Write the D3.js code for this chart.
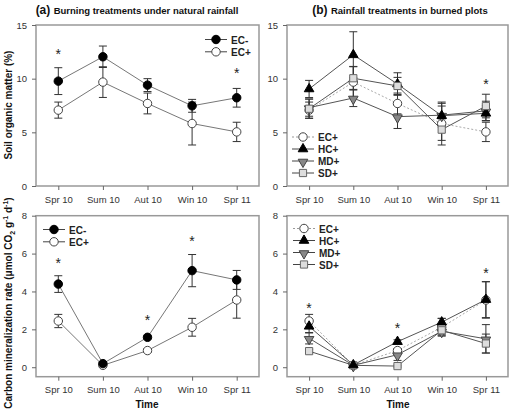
<!DOCTYPE html>
<html>
<head>
<meta charset="utf-8">
<script src="https://cdn.jsdelivr.net/npm/d3@7"></script>
<style>
  body { margin: 0; background: #fff; }
  svg { font-family: "Liberation Sans", Arial, sans-serif; }
</style>
</head>
<body>
<div id="chart"></div>
<script>
// categories / ticks
var seasons = ["Spr 10", "Sum 10", "Aut 10", "Win 10", "Spr 11"];
var somTicks = [0, 5, 10, 15];
var cmrTicks = [0, 2, 4, 6, 8];

// soil organic matter (%)
var somECminus = [9.77, 12.04, 9.4, 7.47, 8.22];
var somECminusErr = [1.25, 1.0, 0.6, 0.6, 0.87];
var somECplus = [7.07, 9.68, 7.69, 5.82, 5.04];
var somECplusErr = [0.75, 1.43, 0.97, 2.0, 0.9];
var somHC = [9.04, 12.22, 9.5, 6.55, 6.77];
var somHCErr = [0.8, 2.15, 1.05, 0.9, 0.7];
var somMD = [7.3, 8.2, 6.46, 6.6, 7.0];
var somMDErr = [0.8, 0.8, 1.1, 1.1, 0.9];
var somSD = [7.2, 10.04, 9.32, 5.25, 7.45];
var somSDErr = [0.9, 1.1, 0.8, 1.0, 1.1];

// carbon mineralization rate
var cmrECminus = [4.39, 0.19, 1.58, 5.1, 4.61];
var cmrECminusErr = [0.44, 0.05, 0.08, 0.85, 0.5];
var cmrECplus = [2.44, 0.1, 0.88, 2.11, 3.55];
var cmrECplusErr = [0.35, 0.05, 0.1, 0.47, 0.96];
var cmrHC = [2.16, 0.12, 1.35, 2.38, 3.57];
var cmrHCErr = [0.35, 0.05, 0.1, 0.2, 0.95];
var cmrMD = [1.53, 0.1, 0.66, 1.9, 1.5];
var cmrMDErr = [0.3, 0.05, 0.3, 0.2, 0.75];
var cmrSD = [0.85, 0.1, 0.06, 1.95, 1.25];
var cmrSDErr = [0.1, 0.05, 0.05, 0.25, 0.5];

// significance stars: [season index, y value]
var starsA = [[0, 12.4], [4, 10.6]];
var starsB = [[4, 9.6]];
var starsC = [[0, 5.55], [2, 2.55], [3, 6.7]];
var starsD = [[0, 3.2], [2, 2.1], [4, 5.05]];

var svg = d3.select("#chart").append("svg")
    .attr("width", 526).attr("height", 410);

var styles = {
    ECm: { shape: d3.symbolCircle, fill: "#000", stroke: "#000", line: "#777", dash: null },
    ECp: { shape: d3.symbolCircle, fill: "#fff", stroke: "#444", line: "#777", dash: null },
    ECpDot: { shape: d3.symbolCircle, fill: "#fff", stroke: "#444", line: "#aaa", dash: "2,2" },
    HC: { shape: d3.symbolTriangle, fill: "#000", stroke: "#000", line: "#555", dash: null },
    MD: { shape: "down", fill: "#888", stroke: "#444", line: "#555", dash: null },
    SD: { shape: d3.symbolSquare, fill: "#ddd", stroke: "#666", line: "#555", dash: null }
};

function marker(g, st, x, y) {
    var p;
    if (st.shape === "down") {
        p = g.append("path").attr("d", d3.symbol(d3.symbolTriangle, 40)())
            .attr("transform", "translate(" + x + "," + (y + 1) + ") rotate(180)");
    } else {
        var size = st.shape === d3.symbolSquare ? 52 : (st.shape === d3.symbolTriangle ? 40 : 56);
        p = g.append("path").attr("d", d3.symbol(st.shape, size)())
            .attr("transform", "translate(" + x + "," + y + ")");
    }
    p.attr("fill", st.fill).attr("stroke", st.stroke).attr("stroke-width", 1);
}

function panel(opt) {
    var x = d3.scalePoint().domain(seasons).range([opt.x0, opt.x1]).padding(0.5);
    var y = d3.scaleLinear().domain(opt.ydom).range([opt.y1, opt.y0]);
    var g = svg.append("g");

    // frame
    g.append("rect").attr("x", opt.x0).attr("y", opt.y0)
        .attr("width", opt.x1 - opt.x0).attr("height", opt.y1 - opt.y0)
        .attr("fill", "none").attr("stroke", "#999").attr("stroke-width", 1.5);

    var ya = g.append("g").attr("transform", "translate(" + opt.x0 + ",0)")
        .call(d3.axisLeft(y).tickValues(opt.ticks).tickSize(4).tickPadding(5));
    var xa = g.append("g").attr("transform", "translate(0," + opt.y1 + ")")
        .call(d3.axisBottom(x).tickSize(4).tickPadding(6));
    [ya, xa].forEach(function (a) {
        a.select(".domain").remove();
        a.selectAll("line").attr("stroke", "#666");
        a.selectAll("text").attr("font-size", 9.5).attr("fill", "#333")
            .attr("font-family", "Liberation Sans, Arial, sans-serif");
    });

    // series: lines first, then error bars, then markers
    opt.series.forEach(function (s) {
        var st = styles[s.style];
        var line = d3.line().x(function (d, i) { return x(seasons[i]); }).y(function (d) { return y(d); });
        g.append("path").datum(s.values).attr("d", line)
            .attr("fill", "none").attr("stroke", st.line).attr("stroke-width", 1)
            .attr("stroke-dasharray", st.dash);
    });
    opt.series.forEach(function (s) {
        s.values.forEach(function (v, i) {
            var cx = x(seasons[i]), e = s.err[i];
            g.append("line").attr("x1", cx).attr("x2", cx)
                .attr("y1", y(v + e)).attr("y2", y(v - e))
                .attr("stroke", "#333").attr("stroke-width", 1);
            [v + e, v - e].forEach(function (w) {
                g.append("line").attr("x1", cx - 4).attr("x2", cx + 4)
                    .attr("y1", y(w)).attr("y2", y(w))
                    .attr("stroke", "#333").attr("stroke-width", 1);
            });
        });
    });
    opt.series.forEach(function (s) {
        s.values.forEach(function (v, i) {
            marker(g, styles[s.style], x(seasons[i]), y(v));
        });
    });

    opt.stars.forEach(function (d) {
        g.append("text").attr("x", x(seasons[d[0]])).attr("y", y(d[1]) + 6)
            .attr("text-anchor", "middle").attr("font-size", 14).attr("fill", "#222")
            .text("*");
    });

    // legend
    opt.legend.items.forEach(function (it, i) {
        var st = styles[it.style];
        var ly = opt.legend.y + i * opt.legend.dy;
        g.append("line").attr("x1", opt.legend.x).attr("x2", opt.legend.x + 22)
            .attr("y1", ly).attr("y2", ly)
            .attr("stroke", st.dash ? "#999" : "#444").attr("stroke-width", 1)
            .attr("stroke-dasharray", st.dash);
        marker(g, st, opt.legend.x + 11, ly);
        g.append("text").attr("x", opt.legend.x + 26).attr("y", ly + 4)
            .attr("font-size", 10).attr("font-weight", "bold").attr("fill", "#222")
            .text(it.label);
    });
}

// top left
panel({
    x0: 36, x1: 259, y0: 25, y1: 186, ydom: [0, 15], ticks: somTicks,
    series: [
        { style: "ECp", values: somECplus, err: somECplusErr },
        { style: "ECm", values: somECminus, err: somECminusErr }
    ],
    stars: starsA,
    legend: { x: 205, y: 39.5, dy: 12.3, items: [{ style: "ECm", label: "EC-" }, { style: "ECp", label: "EC+" }] }
});

// top right
panel({
    x0: 287, x1: 508, y0: 25, y1: 186, ydom: [0, 15], ticks: somTicks,
    series: [
        { style: "ECpDot", values: somECplus, err: somECplusErr },
        { style: "MD", values: somMD, err: somMDErr },
        { style: "HC", values: somHC, err: somHCErr },
        { style: "SD", values: somSD, err: somSDErr }
    ],
    stars: starsB,
    legend: { x: 292, y: 137, dy: 12, items: [
        { style: "ECpDot", label: "EC+" }, { style: "HC", label: "HC+" },
        { style: "MD", label: "MD+" }, { style: "SD", label: "SD+" }] }
});

// bottom left
panel({
    x0: 36, x1: 259, y0: 215.7, y1: 376.7, ydom: [-0.5, 8], ticks: cmrTicks,
    series: [
        { style: "ECp", values: cmrECplus, err: cmrECplusErr },
        { style: "ECm", values: cmrECminus, err: cmrECminusErr }
    ],
    stars: starsC,
    legend: { x: 43, y: 229.5, dy: 12.3, items: [{ style: "ECm", label: "EC-" }, { style: "ECp", label: "EC+" }] }
});

// bottom right
panel({
    x0: 287, x1: 508, y0: 215.7, y1: 376.7, ydom: [-0.5, 8], ticks: cmrTicks,
    series: [
        { style: "ECpDot", values: cmrECplus, err: cmrECplusErr },
        { style: "MD", values: cmrMD, err: cmrMDErr },
        { style: "SD", values: cmrSD, err: cmrSDErr },
        { style: "HC", values: cmrHC, err: cmrHCErr }
    ],
    stars: starsD,
    legend: { x: 293, y: 228.5, dy: 12, items: [
        { style: "ECpDot", label: "EC+" }, { style: "HC", label: "HC+" },
        { style: "MD", label: "MD+" }, { style: "SD", label: "SD+" }] }
});

// titles
var t1 = svg.append("text").attr("x", 137).attr("y", 14).attr("text-anchor", "middle")
    .attr("font-weight", "bold").attr("fill", "#111");
t1.append("tspan").attr("font-size", 12).text("(a) ");
t1.append("tspan").attr("font-size", 9.5).text("Burning treatments under natural rainfall");
var t2 = svg.append("text").attr("x", 400).attr("y", 14).attr("text-anchor", "middle")
    .attr("font-weight", "bold").attr("fill", "#111");
t2.append("tspan").attr("font-size", 12).text("(b) ");
t2.append("tspan").attr("font-size", 9.5).text("Rainfall treatments in burned plots");

// axis titles
svg.append("text").attr("transform", "translate(12,105) rotate(-90)")
    .attr("text-anchor", "middle").attr("font-size", 10).attr("font-weight", "bold")
    .attr("fill", "#111").text("Soil organic matter (%)");

var yl = svg.append("text").attr("transform", "translate(12,303) rotate(-90)")
    .attr("text-anchor", "middle").attr("font-size", 10).attr("font-weight", "bold").attr("fill", "#111");
yl.append("tspan").text("Carbon mineralization rate (\u03bcmol CO");
yl.append("tspan").attr("font-size", 7).attr("dy", 3).text("2");
yl.append("tspan").attr("dy", -3).text(" g");
yl.append("tspan").attr("font-size", 7).attr("dy", -4).text("-1");
yl.append("tspan").attr("dy", 4).text(" d");
yl.append("tspan").attr("font-size", 7).attr("dy", -4).text("-1");
yl.append("tspan").attr("dy", 4).text(")");

[147, 398].forEach(function (cx) {
    svg.append("text").attr("x", cx).attr("y", 408).attr("text-anchor", "middle")
        .attr("font-size", 10).attr("font-weight", "bold").attr("fill", "#111").text("Time");
});
</script>
</body>
</html>
